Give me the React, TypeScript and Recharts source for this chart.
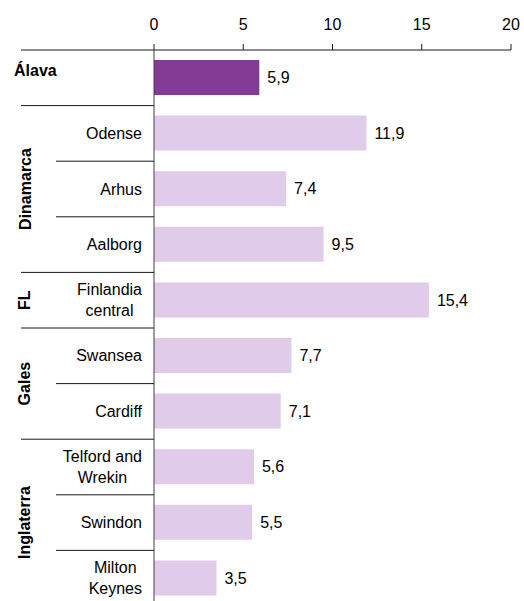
import React from "react";
import { BarChart, Bar, XAxis, YAxis, Cell, LabelList } from "recharts";

// row labels (\n = line break), values, and group of each row
const categories = [
  "Álava",
  "Odense",
  "Arhus",
  "Aalborg",
  "Finlandia\ncentral",
  "Swansea",
  "Cardiff",
  "Telford and\nWrekin",
  "Swindon",
  "Milton\nKeynes",
];
const values = [5.9, 11.9, 7.4, 9.5, 15.4, 7.7, 7.1, 5.6, 5.5, 3.5];
const groupNames = ["Álava", "Dinamarca", "FL", "Gales", "Inglaterra"];
const rowGroup = [0, 1, 1, 1, 2, 3, 3, 4, 4, 4];
const xTicks = [0, 5, 10, 15, 20];

const W = 524;
const H = 610;
const MARGIN = { top: 20, right: 13, bottom: 4, left: 0 };
const X_AXIS_H = 30;
const Y_AXIS_W = 154;
const PLOT_TOP = MARGIN.top + X_AXIS_H;
const PLOT_H = H - PLOT_TOP - MARGIN.bottom;
const ROW_H = PLOT_H / categories.length;
const LABEL_RIGHT = 142;
const FONT = '"Liberation Sans", Arial, sans-serif';
const LINE = "#1a1a1a";

const DARK = "#833C96";
const LIGHT = "#E0CCEA";

const data = categories.map((name, i) => ({ name, value: values[i] }));

let ctx: CanvasRenderingContext2D | null = null;
function textWidth(s: string): number {
  if (!ctx) ctx = document.createElement("canvas").getContext("2d");
  if (!ctx) return s.length * 8;
  ctx.font = `16px ${FONT}`;
  return ctx.measureText(s).width;
}

function groupSpan(g: number) {
  const first = rowGroup.indexOf(g);
  const last = rowGroup.lastIndexOf(g);
  return { first, last };
}

function RowTick(props: any) {
  const { y, index, payload } = props;
  const g = rowGroup[index];
  const { first, last } = groupSpan(g);
  const single = first === last && groupNames[g] === payload.value;
  const bottom = y + ROW_H / 2;
  const top = y - ROW_H / 2;
  const lines = String(payload.value).split("\n");
  const maxW = Math.max(...lines.map(textWidth));
  const cx = LABEL_RIGHT - maxW / 2;
  const lh = 21;
  const parts: React.ReactNode[] = [];

  if (index === 0) {
    parts.push(<line key="top" x1={21} x2={Y_AXIS_W} y1={top} y2={top} stroke={LINE} />);
  }
  // separator under the row: full width at the end of a group
  const sepX = index === last ? 21 : 56;
  if (index < categories.length - 1) {
    parts.push(<line key="sep" x1={sepX} x2={Y_AXIS_W} y1={bottom} y2={bottom} stroke={LINE} />);
  }

  if (single) {
    parts.push(
      <text key="g" x={14} y={y - 7} fontSize={16} fontWeight="bold" fontFamily={FONT} fill="#000" dominantBaseline="central">
        {payload.value}
      </text>
    );
  } else {
    lines.forEach((l, i) => {
      parts.push(
        <text
          key={"l" + i}
          x={cx}
          y={y - ((lines.length - 1) * lh) / 2 + i * lh}
          textAnchor="middle"
          dominantBaseline="central"
          fontSize={16}
          fontFamily={FONT}
          fill="#000"
        >
          {l}
        </text>
      );
    });
    if (index === first) {
      const gy = PLOT_TOP + ((first + last + 1) / 2) * ROW_H;
      parts.push(
        <text
          key="grp"
          x={25}
          y={gy}
          transform={`rotate(-90 25 ${gy})`}
          textAnchor="middle"
          dominantBaseline="central"
          fontSize={16}
          fontWeight="bold"
          fontFamily={FONT}
          fill="#000"
        >
          {groupNames[g]}
        </text>
      );
    }
  }
  return <g>{parts}</g>;
}

export default function App() {
  return (
    <div style={{ position: "absolute", left: 0, top: 0, width: 524, height: 601, overflow: "hidden", background: "#fff" }}>
      <BarChart width={W} height={H} data={data} layout="vertical" margin={MARGIN}>
        <XAxis
          type="number"
          orientation="top"
          height={X_AXIS_H}
          domain={[0, 20]}
          ticks={xTicks}
          tickSize={6}
          tickMargin={14}
          axisLine={{ stroke: LINE }}
          tickLine={{ stroke: LINE }}
          tick={{ fill: "#000", fontSize: 16, fontFamily: FONT }}
        />
        <YAxis
          type="category"
          dataKey="name"
          width={Y_AXIS_W}
          axisLine={{ stroke: "#404040" }}
          tickLine={false}
          interval={0}
          tick={<RowTick />}
        />
        <Bar dataKey="value" barSize={35} isAnimationActive={false}>
          {data.map((d, i) => (
            <Cell key={d.name} fill={i === 0 ? DARK : LIGHT} />
          ))}
          <LabelList
            dataKey="value"
            position="right"
            offset={8}
            formatter={(v: any) => String(v).replace(".", ",")}
            style={{ fill: "#000", fontSize: 16, fontFamily: FONT }}
          />
        </Bar>
      </BarChart>
    </div>
  );
}
